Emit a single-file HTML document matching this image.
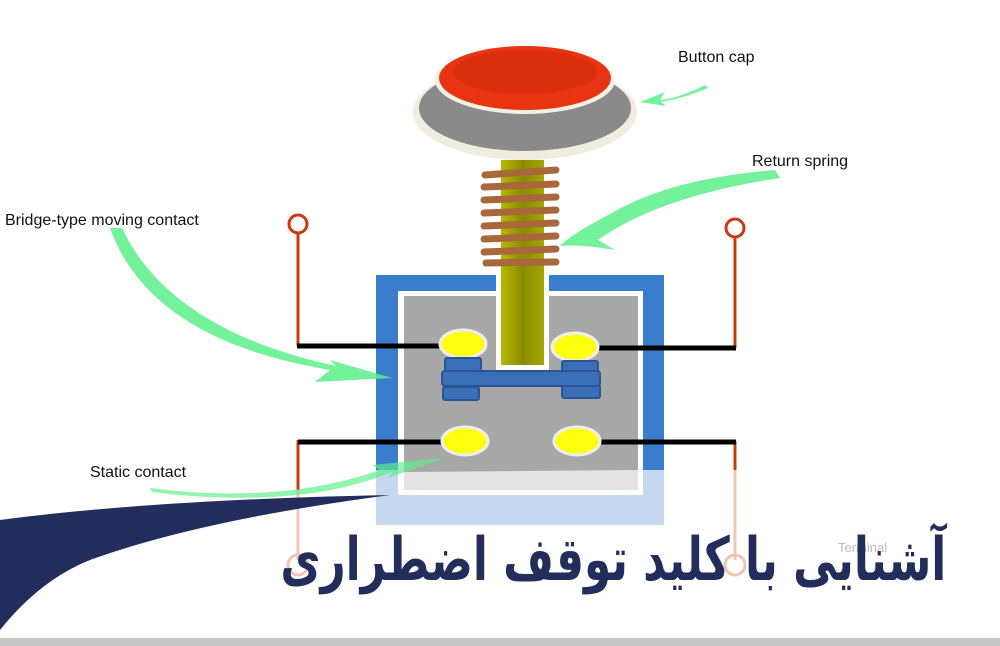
<!DOCTYPE html>
<html><head><meta charset="utf-8"><style>
html,body{margin:0;padding:0;background:#fff;width:1000px;height:646px;overflow:hidden;position:relative}
svg{display:block}
text{font-family:"Liberation Sans",sans-serif}
#title{position:absolute;right:54px;top:515px;font-family:"DejaVu Sans","Noto Sans CJK SC",sans-serif;font-weight:bold;font-size:60px;line-height:90px;color:#232d5c;direction:rtl;white-space:nowrap;transform:scaleX(0.73);transform-origin:right center}
</style></head><body>
<svg width="1000" height="646" viewBox="0 0 1000 646" xmlns="http://www.w3.org/2000/svg">
<defs>
<linearGradient id="stem" x1="0" x2="1"><stop offset="0" stop-color="#b8b800"/><stop offset="0.5" stop-color="#8a8a00"/><stop offset="1" stop-color="#a6a600"/></linearGradient>
</defs>
<ellipse cx="525" cy="112" rx="112" ry="48" fill="#f0ede0"/>
<ellipse cx="525" cy="108" rx="106" ry="43" fill="#8a8a8a"/>
<ellipse cx="525" cy="80" rx="90" ry="34" fill="#f4f0e4"/>
<ellipse cx="525" cy="78" rx="86" ry="32" fill="#e83410"/>
<ellipse cx="525" cy="72" rx="72" ry="22" fill="#cc2a08" opacity="0.5"/>
<line x1="298" y1="232" x2="298" y2="346" stroke="#c83a10" stroke-width="3"/>
<circle cx="298" cy="224" r="9" fill="none" stroke="#c83a10" stroke-width="3"/>
<line x1="735" y1="236" x2="735" y2="348" stroke="#c83a10" stroke-width="3"/>
<circle cx="735" cy="228" r="9" fill="none" stroke="#c83a10" stroke-width="3"/>
<line x1="298" y1="440" x2="298" y2="490" stroke="#c83a10" stroke-width="3"/>
<line x1="298" y1="490" x2="298" y2="560" stroke="#f0c4b6" stroke-width="3"/>
<circle cx="298" cy="565" r="10" fill="none" stroke="#f0c4b6" stroke-width="3"/>
<line x1="735" y1="441" x2="735" y2="470" stroke="#c83a10" stroke-width="3"/>
<line x1="735" y1="470" x2="735" y2="560" stroke="#f0c4b6" stroke-width="3"/>
<circle cx="735" cy="565" r="10" fill="none" stroke="#f0c4b6" stroke-width="3"/>
<rect x="376" y="275" width="288" height="250" fill="#3a7dcc"/>
<rect x="376" y="470" width="288" height="55" fill="#c4d8ef"/>
<rect x="398" y="291" width="245" height="204" fill="#fff"/>
<rect x="404" y="296" width="234" height="194" fill="#a8a8a8"/>
<polygon points="404,472 638,470 638,490 404,490" fill="#e4e4e4"/>
<rect x="496" y="270" width="53" height="102" fill="#fff"/>
<rect x="501" y="160" width="43" height="205" fill="url(#stem)"/>
<g stroke="#a8683a" stroke-width="7" stroke-linecap="round">
<line x1="485" y1="175" x2="556" y2="170"/>
<line x1="484" y1="187" x2="556" y2="184"/>
<line x1="484" y1="200" x2="556" y2="197"/>
<line x1="484" y1="213" x2="556" y2="210"/>
<line x1="484" y1="226" x2="556" y2="223"/>
<line x1="484" y1="239" x2="556" y2="236"/>
<line x1="484" y1="252" x2="556" y2="249"/>
<line x1="486" y1="263" x2="556" y2="262"/>
</g>
<line x1="297" y1="346" x2="445" y2="346" stroke="#000" stroke-width="5"/>
<line x1="598" y1="348" x2="736" y2="348" stroke="#000" stroke-width="5"/>
<line x1="298" y1="442" x2="446" y2="442" stroke="#000" stroke-width="5"/>
<line x1="600" y1="442" x2="736" y2="442" stroke="#000" stroke-width="5"/>
<g fill="#ffff10" stroke="#eee" stroke-width="3">
<ellipse cx="463" cy="344" rx="23" ry="14"/>
<ellipse cx="575" cy="347" rx="23" ry="14"/>
<ellipse cx="465" cy="441" rx="23" ry="14"/>
<ellipse cx="577" cy="441" rx="23" ry="14"/>
</g>
<g fill="#3a6fb8" stroke="#2a5595" stroke-width="2">
<rect x="445" y="358" width="36" height="13" rx="2"/>
<rect x="443" y="387" width="36" height="13" rx="2"/>
<rect x="562" y="361" width="36" height="13" rx="2"/>
<rect x="562" y="385" width="38" height="13" rx="2"/>
<rect x="442" y="371" width="158" height="15" rx="3"/>
</g>
<g fill="#5cf08a" opacity="0.85">
<path d="M705,85 Q680,98 660,100 L665,92 L640,102 L666,106 L661,102 Q685,98 708,88 Z"/>
<path d="M775,170 Q650,180 590,228 L610,214 Q570,235 560,246 Q580,244 615,250 L598,240 Q660,196 780,178 Z"/>
<path d="M110,228 Q150,340 330,370 L315,382 L392,378 L330,360 L336,366 Q170,330 122,228 Z"/>
<path d="M150,488 Q280,505 380,470 L372,465 L445,458 L388,478 L392,472 Q300,510 152,492 Z" opacity="0.8"/>
</g>
<path d="M0,520 Q150,500 390,495 Q200,520 90,560 Q40,580 0,630 Z" fill="#232d5c"/>
<text x="678" y="62" font-size="16" fill="#111">Button cap</text>
<text x="752" y="166" font-size="16" fill="#111">Return spring</text>
<text x="5" y="225" font-size="16" fill="#111">Bridge-type moving contact</text>
<text x="90" y="477" font-size="16" fill="#111">Static contact</text>
<text x="838" y="552" font-size="13" fill="#bbb">Terminal</text>
<rect x="0" y="638" width="1000" height="8" fill="#c8c8c8"/>
</svg>
<div id="title">آشنایی با کلید توقف اضطراری</div>
</body></html>
